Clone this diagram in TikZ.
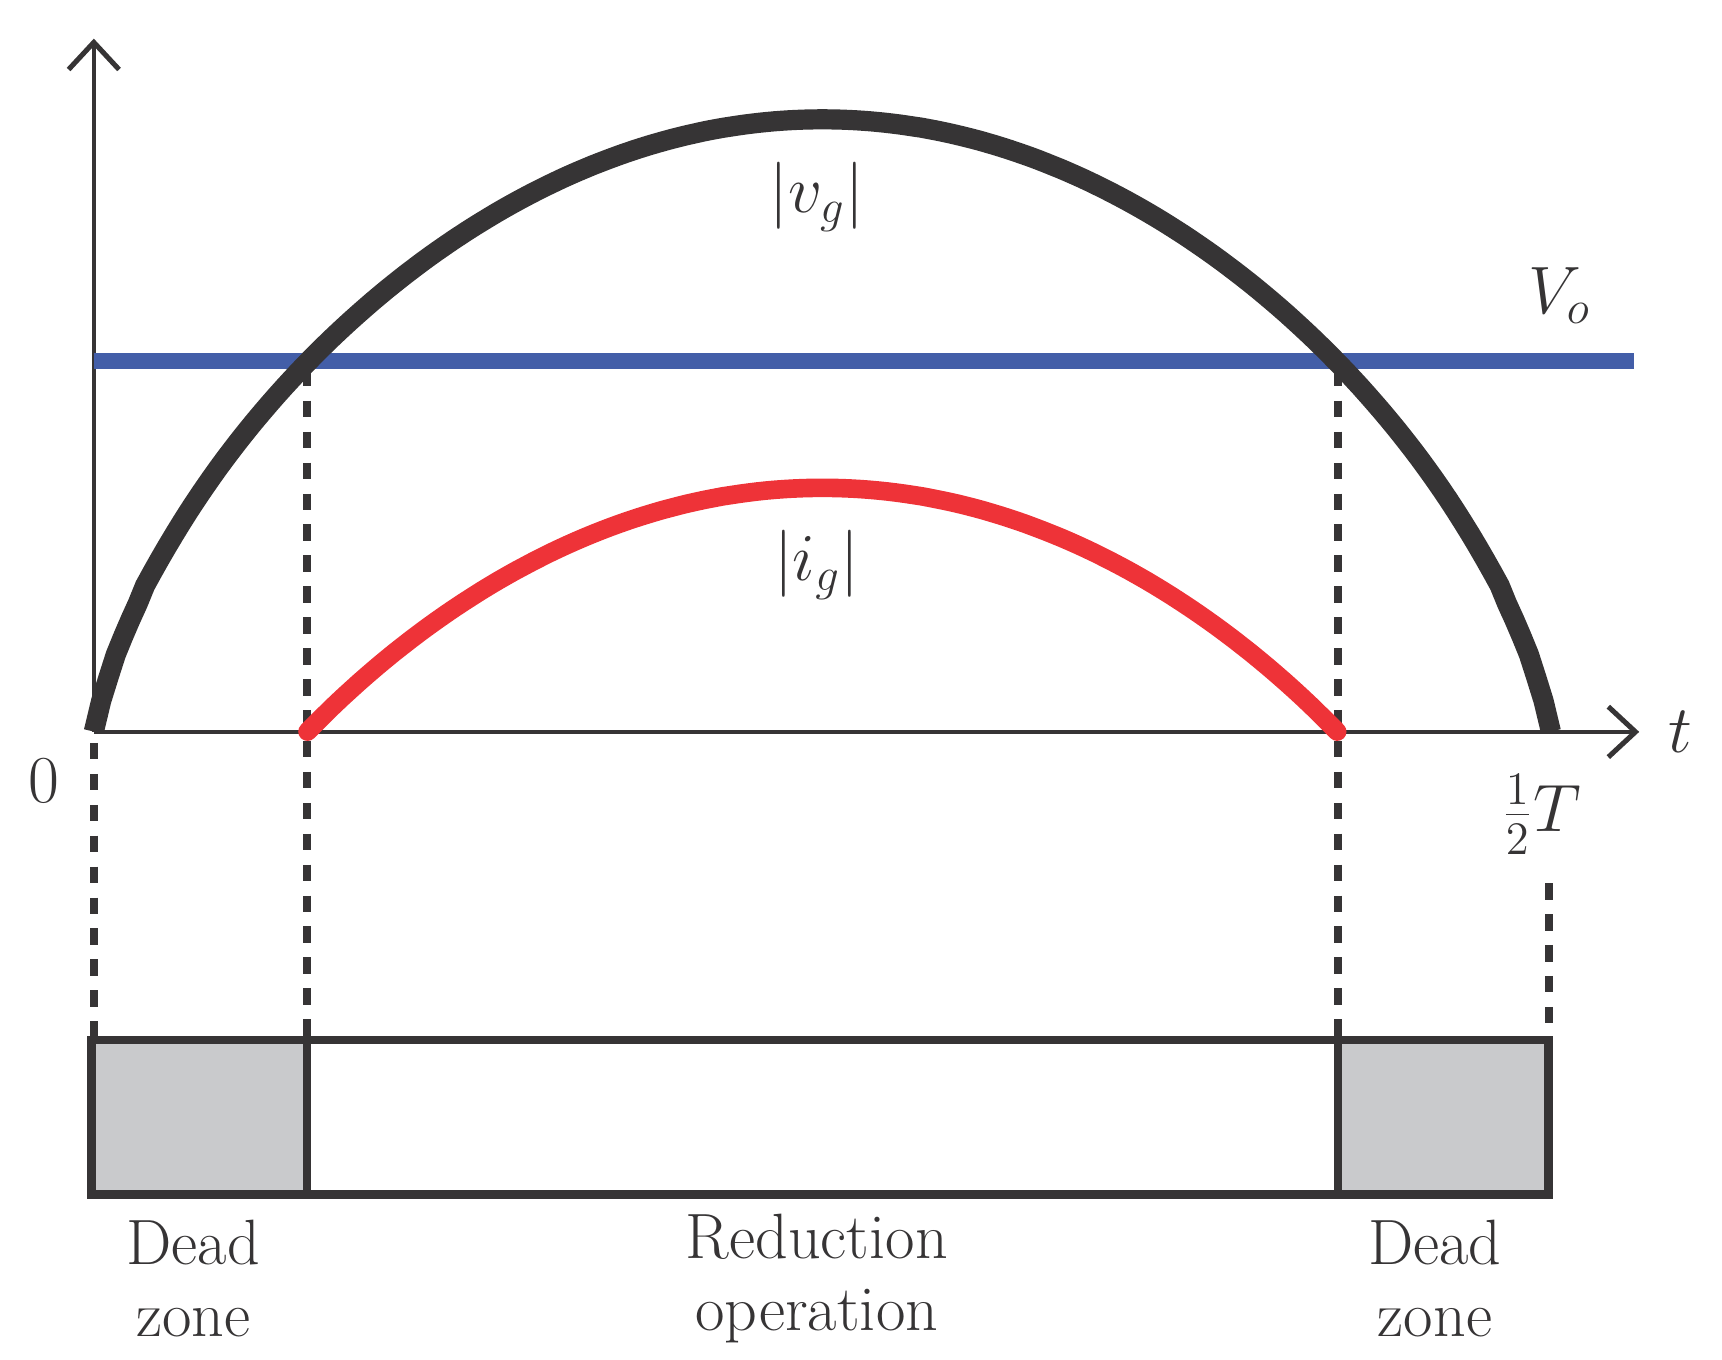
\documentclass[tikz,border=0pt]{standalone}
\usetikzlibrary{arrows.meta}
\definecolor{dk}{HTML}{363435}
\definecolor{bl}{HTML}{435EA8}
\definecolor{rd}{HTML}{EE3338}
\definecolor{gr}{HTML}{C9CACC}
\tikzset{lab/.style={font=\fontsize{16.5}{18.5}\selectfont,text=dk},
 dsh/.style={dk,line width=2pt,dash pattern=on 0.15cm off 0.13cm},
 axis/.style={dk,line width=1.1pt,-{Straight Barb[length=7pt,width=13pt,line width=1.3pt]}}}
\begin{document}
\begin{tikzpicture}[x=0.01cm,y=-0.01cm]
\useasboundingbox (0,0) rectangle (1560,1232);
% box
\fill[gr] (83,942) rectangle (278,1082);
\fill[gr] (1212,942) rectangle (1403,1082);
\draw[dk,line width=2.2pt] (83,942) rectangle (1403,1082);
\draw[dk,line width=2.2pt] (278,942) -- (278,1082) (1212,942) -- (1212,1082);
% dashed
\draw[dsh] (85,673) -- (85,940);
\draw[dsh] (278,335) -- (278,940);
\draw[dsh] (1212,335) -- (1212,940);
\draw[dsh] (1403,800) -- (1403,940);
% axes
\coordinate (o) at (85,663);
\draw[axis] (o) -- (85,35);
\draw[axis] (o) -- (1485,663);
% curves
\draw[bl,line width=4.2pt] (85,327) -- (1480,327);
\draw[dk,line width=5.2pt] plot[domain=0:180,samples=200,variable=\u] ({85+7.33333*\u},{663-(pow(sin(\u)+0.02,0.55)-0.1163)*620.3});
\draw[rd,line width=4.8pt,line cap=round] plot[domain=26.4:153.6,samples=120,variable=\u] ({85+7.33333*\u},{663-(pow(sin(\u)+0.02,0.55)-0.6558)*622.6});
% labels
\node[lab] (vg) at (740,178) {$|v_g|$};
\node[lab] (ig) at (740,512) {$|i_g|$};
\node[lab] (vo) at (1413,268) {$V_o$};
\node[lab] (t) at (1522,663) {$t$};
\node[lab] (z) at (40,707) {$0$};
\node[lab] (T) at (1396,738) {$\frac{1}{2}T$};
\node[lab,align=center] (d1) at (175,1158) {Dead\\zone};
\node[lab,align=center] (r) at (740,1158) {Reduction\\operation};
\node[lab,align=center] (d2) at (1300,1158) {Dead\\zone};
\end{tikzpicture}
\end{document}
